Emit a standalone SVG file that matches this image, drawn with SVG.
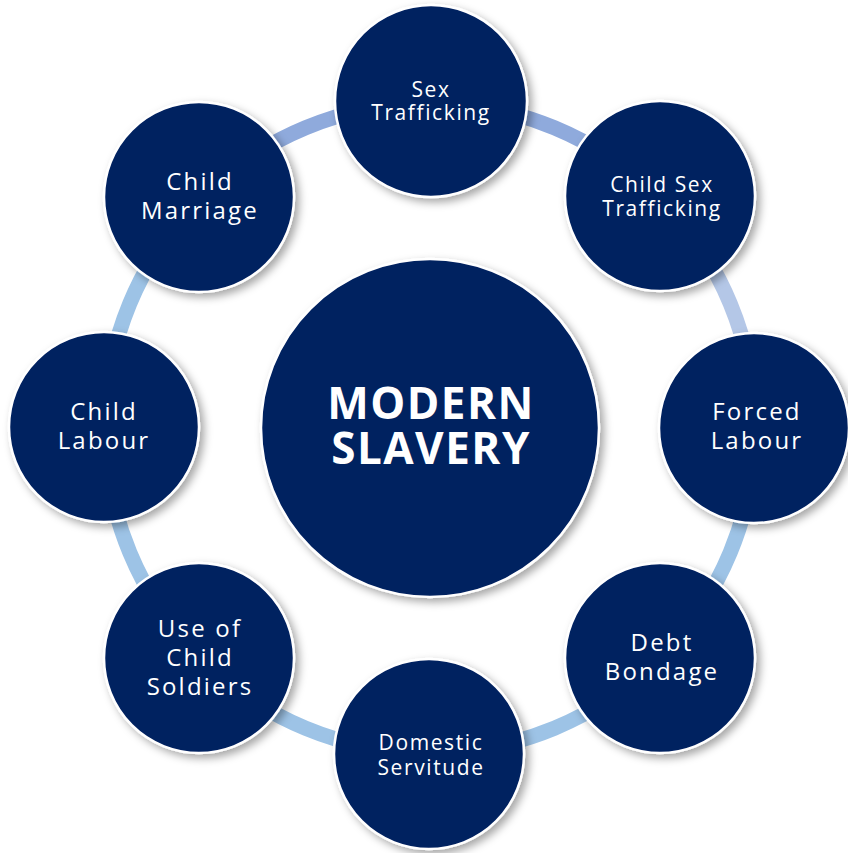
<svg xmlns="http://www.w3.org/2000/svg" width="848" height="853" viewBox="0 0 848 853">
<defs>
<filter id="sh" x="-20%" y="-20%" width="150%" height="150%">
<feDropShadow dx="4" dy="4" stdDeviation="4" flood-color="#000" flood-opacity="0.35"/>
</filter>
<style>
.n{fill:#002060;stroke:#fff;stroke-width:2.5;filter:url(#sh)}
.t{fill:#fff;font-family:"Open Sans","DejaVu Sans",sans-serif;text-anchor:middle}
.s{font-size:21px;letter-spacing:1.6px}
.m{font-size:24px;letter-spacing:2.2px}
.b{font-size:44px;font-weight:bold;letter-spacing:1.5px}
.r{fill:none;stroke-width:15}
</style>
</defs>
<rect width="848" height="853" fill="#fff"/>
<g id="connectors">
<path class="r" stroke="#8FAADC" d="M200.19,198.19 A325,325 0 0 1 430,103"/>
<path class="r" stroke="#8FAADC" d="M430,103 A325,325 0 0 1 659.81,198.19"/>
<path class="r" stroke="#B4C7E7" d="M659.81,198.19 A325,325 0 0 1 755,428"/>
<path class="r" stroke="#9DC3E6" d="M755,428 A325,325 0 0 1 659.81,657.81"/>
<path class="r" stroke="#9DC3E6" d="M659.81,657.81 A325,325 0 0 1 430,753"/>
<path class="r" stroke="#9DC3E6" d="M430,753 A325,325 0 0 1 200.19,657.81"/>
<path class="r" stroke="#9DC3E6" d="M200.19,657.81 A325,325 0 0 1 105,428"/>
<path class="r" stroke="#9DC3E6" d="M105,428 A325,325 0 0 1 200.19,198.19"/>
</g>
<g id="center">
<circle class="n" cx="430" cy="428" r="169"/>
<text class="t b" x="431" y="419">MODERN</text>
<text class="t b" x="431" y="464">SLAVERY</text>
</g>
<g id="sex-trafficking">
<circle class="n" cx="431" cy="101" r="96"/>
<text class="t s" x="431" y="97">Sex</text>
<text class="t s" x="431" y="120">Trafficking</text>
</g>
<g id="child-sex-trafficking">
<circle class="n" cx="660" cy="196" r="95"/>
<text class="t s" x="662" y="192">Child Sex</text>
<text class="t s" x="662" y="216">Trafficking</text>
</g>
<g id="forced-labour">
<circle class="n" cx="754" cy="428" r="95"/>
<text class="t m" x="757" y="420">Forced</text>
<text class="t m" x="757" y="449">Labour</text>
</g>
<g id="debt-bondage">
<circle class="n" cx="660" cy="658" r="95"/>
<text class="t m" x="662" y="651">Debt</text>
<text class="t m" x="662" y="680">Bondage</text>
</g>
<g id="domestic-servitude">
<circle class="n" cx="429" cy="754" r="95"/>
<text class="t s" x="431" y="750">Domestic</text>
<text class="t s" x="431" y="775">Servitude</text>
</g>
<g id="use-of-child-soldiers">
<circle class="n" cx="199" cy="658" r="95"/>
<text class="t m" x="200" y="637">Use of</text>
<text class="t m" x="200" y="666">Child</text>
<text class="t m" x="200" y="695">Soldiers</text>
</g>
<g id="child-labour">
<circle class="n" cx="104" cy="427" r="95"/>
<text class="t m" x="104" y="420">Child</text>
<text class="t m" x="104" y="449">Labour</text>
</g>
<g id="child-marriage">
<circle class="n" cx="199" cy="197" r="95"/>
<text class="t m" x="200" y="190">Child</text>
<text class="t m" x="200" y="219">Marriage</text>
</g>
</svg>
